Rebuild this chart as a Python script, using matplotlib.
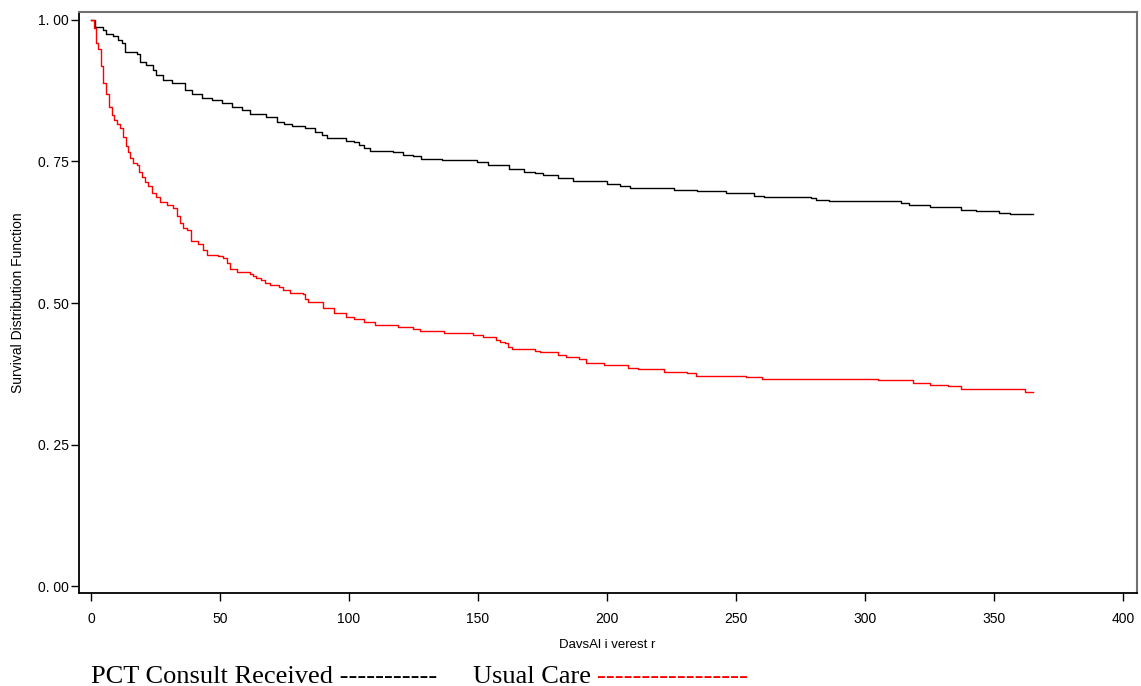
import matplotlib.pyplot as plt

# survival curves (day, survival) - step after each point
pct_days = [0, 1.6, 4.8, 6, 8.5, 10.5, 11.9, 13.2, 17.7, 19, 21.5, 24, 25.4, 28, 31.3,
            36.4, 39, 43, 46.8, 50.7, 54.5, 58.4, 61.6, 68, 72, 75, 77.8, 83, 86.8,
            89.4, 91.3, 99, 102, 104, 106, 108, 117, 121, 125, 127.8, 136, 149.5,
            154, 162, 168, 172, 175, 181, 187, 200, 205, 209, 226, 235, 246, 257,
            261, 279, 281, 286, 314, 317, 325, 337, 343, 352, 356, 365]
pct_surv = [1.0, 0.988, 0.982, 0.975, 0.971, 0.965, 0.959, 0.944, 0.939, 0.926, 0.920,
            0.912, 0.903, 0.894, 0.889, 0.876, 0.870, 0.863, 0.859, 0.853, 0.847,
            0.841, 0.834, 0.828, 0.820, 0.816, 0.813, 0.809, 0.802, 0.797, 0.792,
            0.787, 0.784, 0.780, 0.774, 0.768, 0.766, 0.762, 0.759, 0.754, 0.752,
            0.749, 0.743, 0.737, 0.731, 0.729, 0.726, 0.720, 0.716, 0.711, 0.707,
            0.704, 0.700, 0.698, 0.694, 0.689, 0.687, 0.685, 0.682, 0.680, 0.676,
            0.674, 0.670, 0.665, 0.663, 0.659, 0.657, 0.657]

usual_days = [0, 0.5, 1.3, 2, 2.8, 3.7, 4.8, 6, 7, 8, 9, 10.2, 11.2, 12.5, 13.4, 14.4,
              15.1, 16.4, 17.7, 18.7, 19.6, 20.9, 22.2, 23.5, 25.4, 26.7, 29.3, 31.9,
              33.2, 34.5, 35.8, 37.3, 38.6, 41.6, 43.5, 44.8, 49.3, 51.3, 52.6, 53.9,
              56.5, 61.6, 62.9, 64, 66, 67.4, 69.4, 73, 74.5, 77, 82, 83, 84, 90, 94,
              99, 102, 106, 110, 119, 125, 127.5, 135, 137, 148, 152, 157, 158.5,
              160.5, 161.8, 163, 172, 174, 181, 184, 189, 192, 199, 208, 212, 222,
              231, 234.5, 254, 260, 305, 318.5, 325, 332, 337, 362, 365]
usual_surv = [1.0, 1.0, 0.985, 0.960, 0.948, 0.918, 0.889, 0.870, 0.847, 0.832, 0.824,
              0.816, 0.809, 0.793, 0.777, 0.766, 0.756, 0.747, 0.744, 0.732, 0.723,
              0.714, 0.706, 0.694, 0.688, 0.679, 0.673, 0.667, 0.653, 0.641, 0.632,
              0.629, 0.609, 0.605, 0.594, 0.585, 0.583, 0.579, 0.570, 0.561, 0.554,
              0.552, 0.548, 0.544, 0.541, 0.536, 0.532, 0.528, 0.523, 0.518, 0.516,
              0.508, 0.501, 0.492, 0.482, 0.476, 0.471, 0.467, 0.461, 0.457, 0.455,
              0.451, 0.450, 0.447, 0.444, 0.440, 0.435, 0.432, 0.429, 0.423, 0.419,
              0.416, 0.413, 0.409, 0.404, 0.401, 0.395, 0.390, 0.385, 0.383, 0.379,
              0.377, 0.372, 0.370, 0.366, 0.364, 0.359, 0.355, 0.353, 0.348, 0.343,
              0.343]

xticks = [0, 50, 100, 150, 200, 250, 300, 350, 400]
yticks = [0.0, 0.25, 0.5, 0.75, 1.0]
ylabels = ['0. 00', '0. 25', '0. 50', '0. 75', '1. 00']

plt.rcParams['font.family'] = ['Liberation Sans', 'DejaVu Sans']

fig = plt.figure(figsize=(11.41, 6.86), dpi=100)
ax = fig.add_axes([0.0692, 0.1356, 0.9273, 0.8469])

ax.step(pct_days, pct_surv, where='post', color='black', lw=1.0)
ax.step(usual_days, usual_surv, where='post', color='red', lw=1.0)

ax.set_xlim(-4.65, 405.4)
ax.set_ylim(-0.012, 1.014)
ax.set_xticks(xticks)
ax.set_xticklabels([str(t) for t in xticks])
ax.set_yticks(yticks)
ax.set_yticklabels(ylabels)
ax.tick_params(axis='x', direction='out', length=6, width=1, pad=8, labelsize=10)
ax.tick_params(axis='y', direction='out', length=6, width=1, pad=1, labelsize=10)

for s in ['left', 'bottom']:
    ax.spines[s].set_color('black')
    ax.spines[s].set_linewidth(1.3)
for s in ['top', 'right']:
    ax.spines[s].set_color('#707070')
    ax.spines[s].set_linewidth(1.5)

# axis labels placed by hand, as in the original output
fig.text(18 / 1141, 1 - 303 / 686, 'Survival Distribution Function', fontsize=10,
         rotation=90, ha='center', va='center')
fig.text(607 / 1141, 1 - 645 / 686, 'DavsAl i verest r', fontsize=9.5,
         ha='center', va='center')

fig.text(91 / 1141, 1 - 683 / 686, 'PCT Consult Received -----------',
         family='Liberation Serif', fontsize=19, ha='left', va='baseline')
fig.text(473 / 1141, 1 - 683 / 686, 'Usual Care',
         family='Liberation Serif', fontsize=19, ha='left', va='baseline')
fig.text(597 / 1141, 1 - 683 / 686, '-----------------', color='red',
         family='Liberation Serif', fontsize=19, ha='left', va='baseline')

fig.savefig('out.png', dpi=100)
